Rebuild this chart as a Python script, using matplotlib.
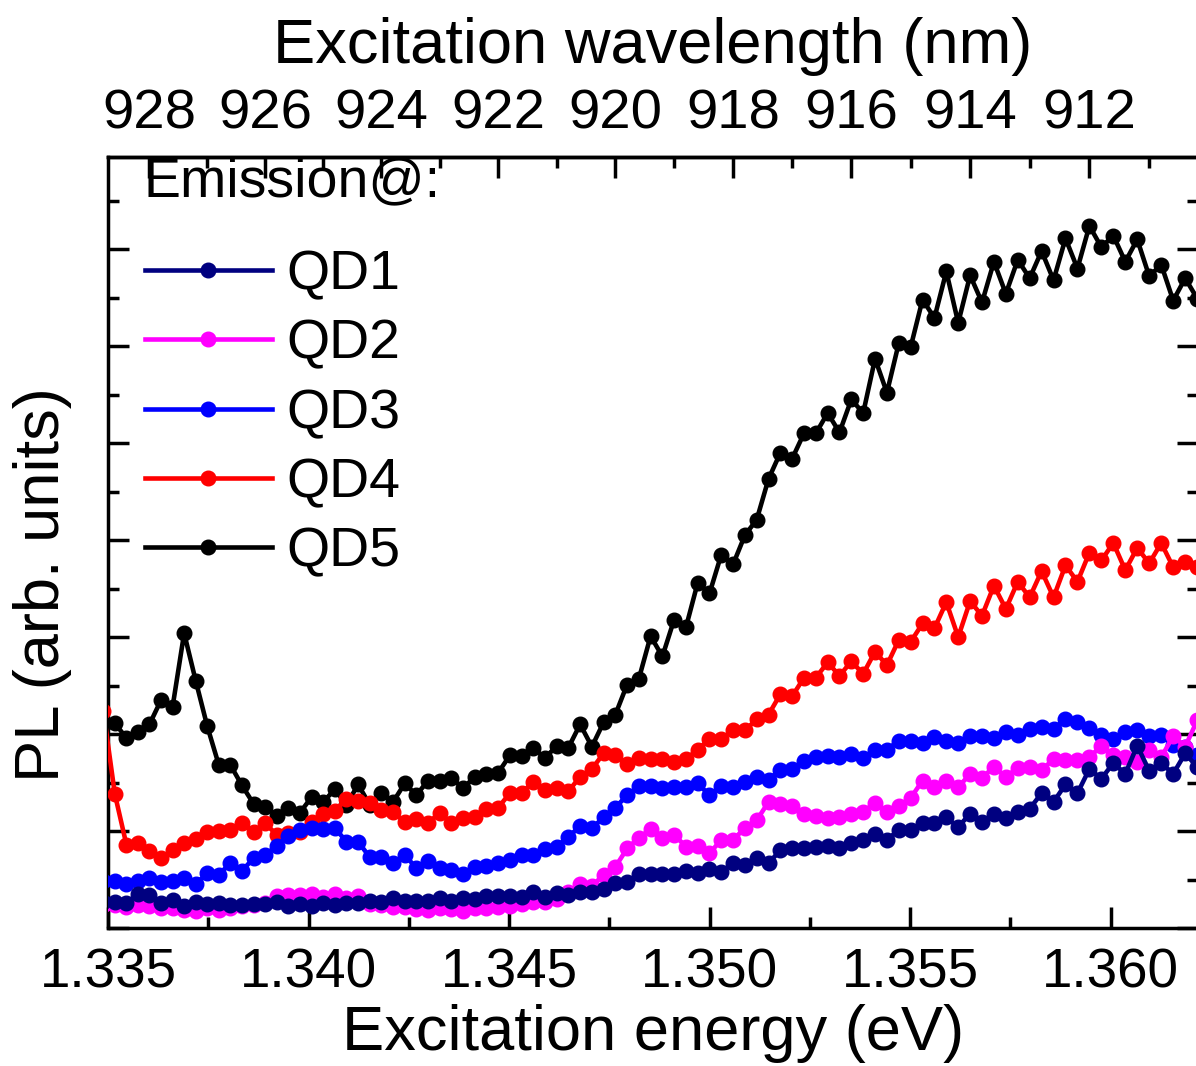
import numpy as np
import matplotlib
matplotlib.use("Agg")
import matplotlib.pyplot as plt
from matplotlib.ticker import MultipleLocator, FixedLocator

plt.rcParams['font.family'] = ['Liberation Sans', 'DejaVu Sans']

HC = 1239.84  # eV*nm

# excitation wavelength grid (nm), 0.2 nm steps
wavelength = np.round(np.arange(928.8, 910.1, -0.2), 1)

qd5 = [2.09, 2.11, 1.96, 2.02, 2.10, 2.35, 2.28, 3.04, 2.55, 2.08, 1.68, 1.68, 1.47, 1.28, 1.25, 1.16,
       1.24, 1.19, 1.35, 1.30, 1.43, 1.27, 1.48, 1.27, 1.39, 1.30, 1.49, 1.37, 1.52, 1.52, 1.55, 1.44,
       1.56, 1.59, 1.60, 1.78, 1.77, 1.86, 1.75, 1.88, 1.86, 2.10, 1.87, 2.12, 2.20, 2.51, 2.57, 3.01,
       2.80, 3.18, 3.10, 3.56, 3.45, 3.85, 3.75, 4.05, 4.21, 4.63, 4.90, 4.84, 5.10, 5.10, 5.31, 5.11,
       5.45, 5.31, 5.87, 5.52, 6.03, 5.99, 6.48, 6.29, 6.77, 6.24, 6.73, 6.45, 6.87, 6.54, 6.89, 6.70,
       6.98, 6.68, 7.11, 6.80, 7.24, 7.02, 7.14, 6.87, 7.10, 6.72, 6.84, 6.47, 6.70, 6.49]

qd4 = [2.24, 1.38, 0.86, 0.88, 0.79, 0.72, 0.80, 0.88, 0.92, 0.99, 1.00, 1.01, 1.08, 0.99, 1.08, 0.96,
       0.98, 0.99, 1.09, 1.18, 1.21, 1.33, 1.31, 1.29, 1.22, 1.20, 1.09, 1.12, 1.08, 1.19, 1.08, 1.13,
       1.14, 1.23, 1.24, 1.39, 1.39, 1.51, 1.42, 1.44, 1.41, 1.56, 1.64, 1.80, 1.78, 1.69, 1.75, 1.74,
       1.74, 1.71, 1.74, 1.84, 1.95, 1.95, 2.04, 2.04, 2.15, 2.20, 2.41, 2.39, 2.58, 2.58, 2.74, 2.60,
       2.75, 2.62, 2.85, 2.71, 2.97, 2.95, 3.14, 3.09, 3.36, 3.00, 3.37, 3.22, 3.53, 3.29, 3.57, 3.41,
       3.68, 3.41, 3.74, 3.57, 3.87, 3.79, 3.97, 3.69, 3.92, 3.76, 3.97, 3.72, 3.77, 3.72]

qd3 = [0.48, 0.48, 0.45, 0.48, 0.52, 0.47, 0.48, 0.52, 0.45, 0.57, 0.55, 0.67, 0.59, 0.72, 0.75, 0.85,
       0.95, 1.01, 1.03, 1.02, 1.03, 0.89, 0.89, 0.73, 0.73, 0.67, 0.75, 0.62, 0.69, 0.62, 0.60, 0.56,
       0.63, 0.64, 0.67, 0.70, 0.75, 0.75, 0.81, 0.84, 0.94, 1.05, 1.03, 1.14, 1.24, 1.37, 1.46, 1.46,
       1.44, 1.45, 1.45, 1.49, 1.37, 1.46, 1.45, 1.51, 1.56, 1.53, 1.63, 1.64, 1.72, 1.76, 1.77, 1.76,
       1.79, 1.75, 1.84, 1.84, 1.93, 1.93, 1.91, 1.97, 1.93, 1.91, 1.98, 1.98, 1.96, 2.02, 1.99, 2.05,
       2.07, 2.05, 2.16, 2.12, 2.06, 1.99, 1.95, 2.02, 2.04, 1.98, 1.99, 1.89, 1.87, 1.78]

qd2 = [0.24, 0.24, 0.22, 0.24, 0.23, 0.21, 0.21, 0.19, 0.18, 0.21, 0.19, 0.21, 0.23, 0.24, 0.26, 0.33,
       0.34, 0.34, 0.35, 0.32, 0.35, 0.31, 0.33, 0.25, 0.24, 0.22, 0.22, 0.20, 0.19, 0.21, 0.20, 0.18,
       0.21, 0.21, 0.22, 0.23, 0.25, 0.27, 0.27, 0.30, 0.37, 0.45, 0.43, 0.55, 0.63, 0.82, 0.93, 1.02,
       0.93, 0.96, 0.84, 0.85, 0.77, 0.91, 0.91, 1.03, 1.11, 1.30, 1.28, 1.26, 1.18, 1.15, 1.13, 1.14,
       1.18, 1.20, 1.29, 1.20, 1.26, 1.34, 1.52, 1.45, 1.52, 1.45, 1.59, 1.55, 1.66, 1.56, 1.65, 1.66,
       1.63, 1.74, 1.73, 1.73, 1.76, 1.88, 1.78, 1.76, 1.71, 1.84, 1.76, 1.98, 1.87, 2.14]

qd1 = [0.27, 0.27, 0.26, 0.35, 0.34, 0.26, 0.29, 0.23, 0.27, 0.25, 0.26, 0.24, 0.24, 0.25, 0.25, 0.27,
       0.23, 0.25, 0.23, 0.26, 0.24, 0.26, 0.26, 0.28, 0.27, 0.31, 0.28, 0.28, 0.28, 0.31, 0.28, 0.31,
       0.30, 0.33, 0.33, 0.33, 0.32, 0.37, 0.32, 0.36, 0.34, 0.37, 0.37, 0.40, 0.46, 0.47, 0.56, 0.56,
       0.56, 0.56, 0.59, 0.57, 0.61, 0.58, 0.67, 0.65, 0.72, 0.67, 0.80, 0.82, 0.82, 0.84, 0.85, 0.82,
       0.88, 0.91, 0.97, 0.91, 1.01, 1.01, 1.08, 1.08, 1.14, 1.04, 1.18, 1.09, 1.18, 1.13, 1.20, 1.23,
       1.39, 1.30, 1.48, 1.39, 1.64, 1.54, 1.70, 1.59, 1.88, 1.62, 1.70, 1.59, 1.80, 1.66]

labels = ['QD1', 'QD2', 'QD3', 'QD4', 'QD5']
colors = ['#000080', '#ff00ff', '#0000ff', '#ff0000', '#000000']
series = [qd1, qd2, qd3, qd4, qd5]

energy = HC / wavelength

fig = plt.figure(figsize=(11.96, 10.66), dpi=100)
W, H = 1196, 1066
ax = fig.add_axes([108 / W, (H - 928) / H, (1198 - 108) / W, (928 - 157) / H])

handles = []
for k in range(len(series)):
    h, = ax.plot(energy, series[k], '-o', color=colors[k], lw=3.3, ms=10.5,
                 mec=colors[k], label=labels[k], zorder=10 - k)
    handles.append(h)

ax.set_xlim(1.335, 1.335 + (1198 - 108) / 40100)
ax.set_ylim(0, 7.95)

ax.xaxis.set_major_locator(MultipleLocator(0.005))
ax.xaxis.set_minor_locator(MultipleLocator(0.0025))
ax.xaxis.set_major_formatter(plt.FormatStrFormatter('%.3f'))
ax.yaxis.set_major_locator(MultipleLocator(1))
ax.yaxis.set_minor_locator(MultipleLocator(0.5))

for s in ax.spines.values():
    s.set_linewidth(2.5)
ax.tick_params(which='both', direction='in', width=2.5, labelsize=39.5, top=False, right=True)
ax.tick_params(which='major', length=15)
ax.tick_params(which='minor', length=8)
ax.tick_params(axis='y', which='both', labelleft=False)
ax.tick_params(axis='x', pad=14)

ax.set_xlabel('Excitation energy (eV)', fontsize=45.5, labelpad=3)
ax.set_ylabel('PL (arb. units)', fontsize=45.5)
ax.yaxis.set_label_coords((72 - 108) / 1090, (928 - 585) / 771)

top = ax.secondary_xaxis('top', functions=(lambda e: HC / e, lambda l: HC / l))
top.xaxis.set_major_locator(FixedLocator([928, 926, 924, 922, 920, 918, 916, 914, 912]))
top.xaxis.set_minor_locator(FixedLocator([929, 927, 925, 923, 921, 919, 917, 915, 913, 911]))
top.tick_params(which='both', direction='in', width=2.5, labelsize=40.5, pad=12)
top.tick_params(which='major', length=15)
top.tick_params(which='minor', length=8)
top.spines['top'].set_linewidth(2.5)
top.set_xlabel('Excitation wavelength (nm)', fontsize=45.5, labelpad=18)

ax.text((143 - 108) / 1090, (928 - 182) / 771, 'Emission@:', transform=ax.transAxes,
        fontsize=40, ha='left', va='center')

leg = ax.legend(handles=handles, loc='upper left', frameon=False,
                bbox_to_anchor=((139 - 108) / 1090, (928 - 244) / 771),
                fontsize=40, numpoints=1,
                handlelength=2.3, handletextpad=0.25, labelspacing=0.31,
                borderaxespad=0.0, borderpad=0.1)

fig.savefig('out.png', dpi=100)
